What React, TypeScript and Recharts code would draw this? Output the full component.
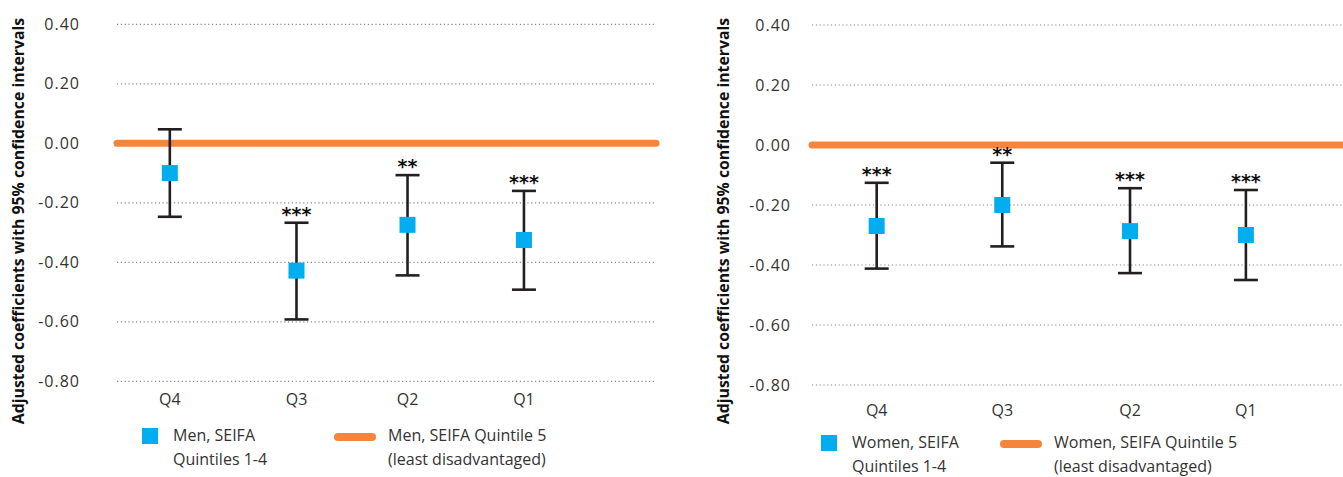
import React from 'react';
import {
  ComposedChart,
  Scatter,
  Line,
  XAxis,
  YAxis,
  CartesianGrid,
  ErrorBar,
  Label,
} from 'recharts';

// categories and axis ticks
const quintiles = ['Q4', 'Q3', 'Q2', 'Q1'];
const yTicks = [0.4, 0.2, 0, -0.2, -0.4, -0.6, -0.8];
const yTitle = 'Adjusted coefficients with 95% confidence intervals';

// men panel
const menX = [0.98, 3.33, 5.39, 7.55];
const menCoef = [-0.1, -0.428, -0.274, -0.325];
const menLower = [-0.247, -0.592, -0.444, -0.492];
const menUpper = [0.047, -0.267, -0.107, -0.16];
const menStars = ['', '***', '**', '***'];
const menLegend = ['Men, SEIFA\nQuintiles 1-4', 'Men, SEIFA Quintile 5\n(least disadvantaged)'];

// women panel
const womenX = [1.2, 3.53, 5.9, 8.05];
const womenCoef = [-0.27, -0.2, -0.287, -0.3];
const womenLower = [-0.412, -0.338, -0.427, -0.45];
const womenUpper = [-0.126, -0.059, -0.144, -0.15];
const womenStars = ['***', '**', '***', '***'];
const womenLegend = ['Women, SEIFA\nQuintiles 1-4', 'Women, SEIFA Quintile 5\n(least disadvantaged)'];

// reference category (quintile 5) sits at zero across the panel
const baselineX = [0, 10];
const baselineY = [0, 0];

const BLUE = '#00AEEF';
const ORANGE = '#F5843C';
const BAR = '#231F20';
const TEXT = '#333333';
const FONT = '"Open Sans", "Noto Sans", sans-serif';

interface PanelProps {
  xs: number[];
  coef: number[];
  lower: number[];
  upper: number[];
  stars: string[];
  legend: string[];
  left: number;
  width: number;
  margin: { top: number; right: number; bottom: number; left: number };
  yAxisWidth: number;
  yTickMargin: number;
  xTickMargin: number;
  titleX: number;
  legendTop: number;
  squareX: number;
  lineX: number;
}

const Panel: React.FC<PanelProps> = (p) => {
  const points = p.xs.map((x, i) => ({
    x,
    coef: p.coef[i],
    err: [p.coef[i] - p.lower[i], p.upper[i] - p.coef[i]],
  }));
  const starPoints = p.xs.map((x, i) => ({ x, upper: p.upper[i], stars: p.stars[i] }));
  const baseline = baselineX.map((x, i) => ({ x, v: baselineY[i] }));

  const renderTitle = () => (
    <text
      x={p.titleX}
      y={221}
      transform={`rotate(-90 ${p.titleX} 221)`}
      textAnchor="middle"
      dominantBaseline="central"
      style={{ fontFamily: FONT, fontWeight: 700, fontSize: 15.8, fill: '#111' }}
    >
      {yTitle}
    </text>
  );

  const legendText: React.CSSProperties = {
    position: 'absolute',
    top: p.legendTop,
    fontFamily: FONT,
    fontSize: 16,
    lineHeight: '23.5px',
    color: TEXT,
    whiteSpace: 'pre',
  };

  return (
    <div style={{ position: 'absolute', left: p.left, top: 0, width: p.width, height: 477 }}>
      <ComposedChart width={p.width} height={477} margin={p.margin}>
        <CartesianGrid vertical={false} stroke="#888" strokeWidth={1.2} strokeDasharray="1.2 2.6" />
        <XAxis
          type="number"
          dataKey="x"
          domain={[0, 10]}
          ticks={p.xs}
          tickFormatter={(v: number) => quintiles[p.xs.indexOf(v)] ?? ''}
          axisLine={false}
          tickLine={false}
          tickSize={0}
          tickMargin={p.xTickMargin}
          height={30}
          interval={0}
          tick={{ fill: TEXT, fontSize: 16, fontFamily: FONT }}
        />
        <YAxis
          type="number"
          domain={[-0.8, 0.4]}
          ticks={yTicks}
          tickFormatter={(v: number) => v.toFixed(2)}
          axisLine={false}
          tickLine={false}
          tickSize={0}
          tickMargin={p.yTickMargin}
          width={p.yAxisWidth}
          interval={0}
          tick={{ fill: TEXT, fontSize: 16, fontFamily: FONT, letterSpacing: 1 }}
        >
          <Label content={renderTitle} />
        </YAxis>
        <Line
          data={baseline}
          dataKey="v"
          stroke={ORANGE}
          strokeWidth={7}
          strokeLinecap="round"
          dot={false}
          activeDot={false}
          isAnimationActive={false}
        />
        <Scatter
          data={points}
          dataKey="coef"
          isAnimationActive={false}
          shape={(s: any) => (
            <rect x={s.cx - 8} y={s.cy - 8} width={16} height={16} fill={BLUE} />
          )}
        >
          <ErrorBar dataKey="err" direction="y" width={12} strokeWidth={2.6} stroke={BAR} />
        </Scatter>
        <Scatter
          data={starPoints}
          dataKey="upper"
          isAnimationActive={false}
          shape={(s: any) => (
            <text
              x={s.cx}
              y={s.cy - 2}
              textAnchor="middle"
              style={{
                fontFamily: '"DejaVu Sans", sans-serif',
                fontWeight: 700,
                fontSize: 19,
                fill: '#111',
              }}
            >
              {s.payload.stars}
            </text>
          )}
        />
      </ComposedChart>
      <div
        style={{
          position: 'absolute',
          left: p.squareX,
          top: p.legendTop + 4,
          width: 16,
          height: 16,
          background: BLUE,
        }}
      />
      <div style={{ ...legendText, left: p.squareX + 31 }}>{p.legend[0]}</div>
      <div
        style={{
          position: 'absolute',
          left: p.lineX,
          top: p.legendTop + 9,
          width: 42,
          height: 8,
          borderRadius: 4,
          background: ORANGE,
        }}
      />
      <div style={{ ...legendText, left: p.lineX + 54 }}>{p.legend[1]}</div>
    </div>
  );
};

export default function App() {
  return (
    <div
      style={{
        position: 'absolute',
        left: 0,
        top: 0,
        width: 1343,
        height: 477,
        overflow: 'hidden',
        background: '#fff',
      }}
    >
      <Panel
        xs={menX}
        coef={menCoef}
        lower={menLower}
        upper={menUpper}
        stars={menStars}
        legend={menLegend}
        left={0}
        width={670}
        margin={{ top: 24.3, right: 14, bottom: 65.7, left: 0 }}
        yAxisWidth={117}
        yTickMargin={37}
        xTickMargin={12}
        titleX={18}
        legendTop={424}
        squareX={142}
        lineX={334}
      />
      <Panel
        xs={womenX}
        coef={womenCoef}
        lower={womenLower}
        upper={womenUpper}
        stars={womenStars}
        legend={womenLegend}
        left={670}
        width={690}
        margin={{ top: 25, right: 9, bottom: 62, left: 0 }}
        yAxisWidth={142}
        yTickMargin={21}
        xTickMargin={20}
        titleX={53}
        legendTop={431}
        squareX={151}
        lineX={330}
      />
    </div>
  );
}
